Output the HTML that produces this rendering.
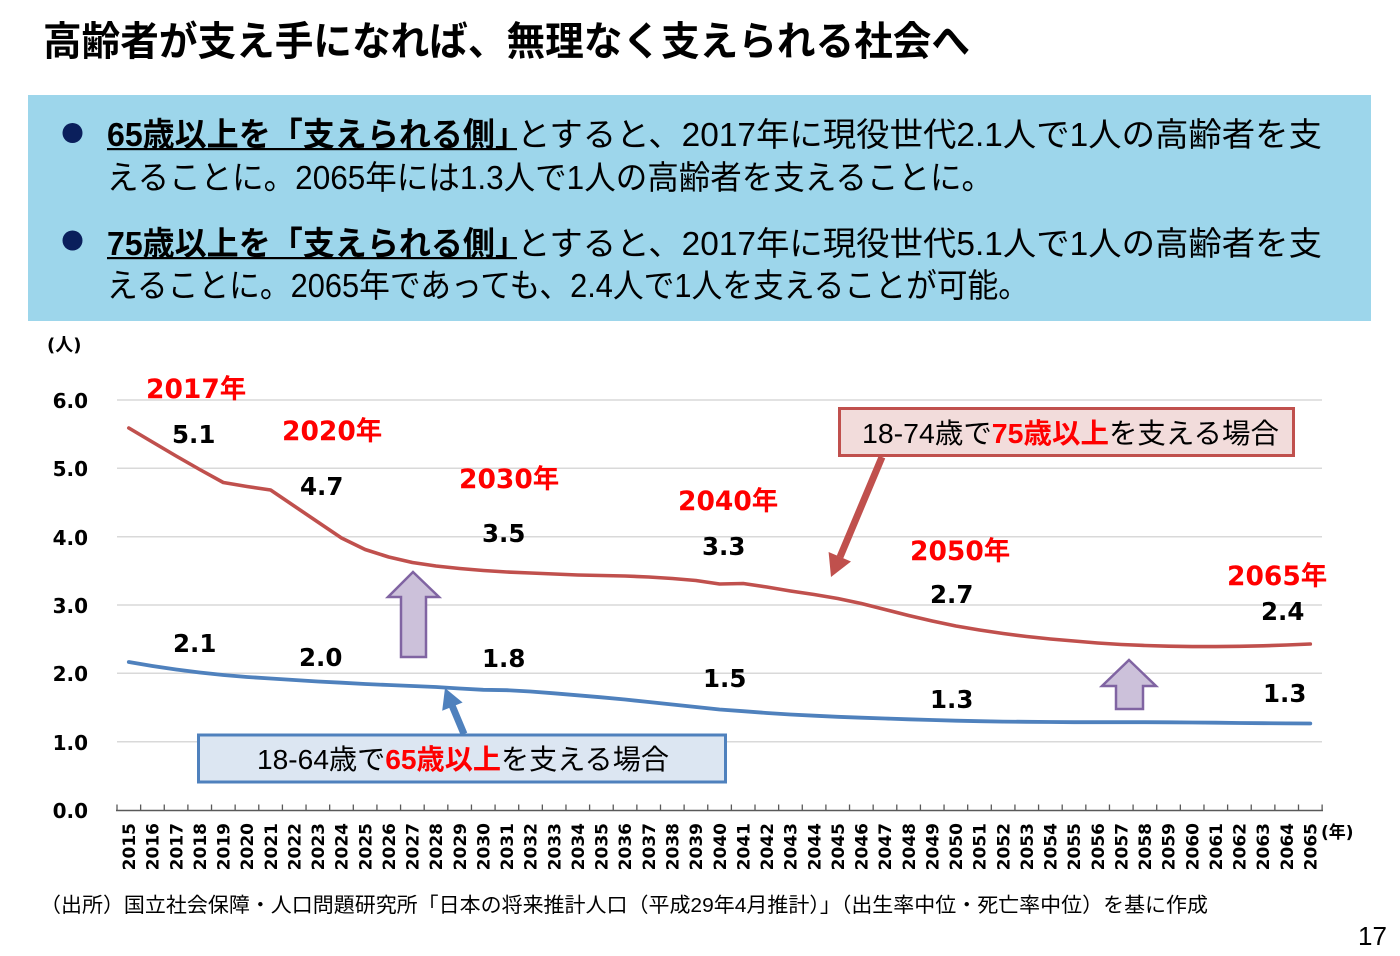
<!DOCTYPE html>
<html><head><meta charset="utf-8"><style>
html,body{margin:0;padding:0;background:#fff;}
svg{display:block;}
.jp{font-family:"Liberation Sans","Noto Sans CJK JP",sans-serif;}
.num{font-family:"DejaVu Sans","Noto Sans CJK JP",sans-serif;font-weight:bold;}
</style></head><body>
<svg width="1400" height="956" viewBox="0 0 1400 956" xmlns="http://www.w3.org/2000/svg">
<rect x="0" y="0" width="1400" height="956" fill="#fff"/>
<!-- Title -->
<text class="jp" x="43" y="55" font-size="40" font-weight="bold" fill="#000" textLength="927" lengthAdjust="spacingAndGlyphs">高齢者が支え手になれば、無理なく支えられる社会へ</text>
<!-- Blue box -->
<rect x="28" y="95" width="1343" height="226" fill="#9dd6eb"/>
<circle cx="72.5" cy="133" r="10" fill="#0a1f5c"/>
<circle cx="72.5" cy="240.5" r="10" fill="#0a1f5c"/>
<text class="jp" x="107" y="146" font-size="33" font-weight="bold" fill="#000" textLength="420" lengthAdjust="spacingAndGlyphs">65歳以上を「支えられる側」</text>
<rect x="107" y="148" width="410" height="2.2" fill="#000"/>
<text class="jp" x="517" y="146" font-size="33" fill="#000" textLength="805" lengthAdjust="spacingAndGlyphs">とすると、2017年に現役世代2.1人で1人の高齢者を支</text>
<text class="jp" x="107" y="189" font-size="33" fill="#000" textLength="886" lengthAdjust="spacingAndGlyphs">えることに。2065年には1.3人で1人の高齢者を支えることに。</text>
<text class="jp" x="107" y="255" font-size="33" font-weight="bold" fill="#000" textLength="420" lengthAdjust="spacingAndGlyphs">75歳以上を「支えられる側」</text>
<rect x="107" y="257" width="410" height="2.2" fill="#000"/>
<text class="jp" x="517" y="255" font-size="33" fill="#000" textLength="805" lengthAdjust="spacingAndGlyphs">とすると、2017年に現役世代5.1人で1人の高齢者を支</text>
<text class="jp" x="107" y="297" font-size="33" fill="#000" textLength="922" lengthAdjust="spacingAndGlyphs">えることに。2065年であっても、2.4人で1人を支えることが可能。</text>

<!-- Gridlines -->
<g stroke="#d9d9d9" stroke-width="1.5">
<line x1="117" y1="400" x2="1322" y2="400"/>
<line x1="117" y1="468.3" x2="1322" y2="468.3"/>
<line x1="117" y1="536.7" x2="1322" y2="536.7"/>
<line x1="117" y1="605" x2="1322" y2="605"/>
<line x1="117" y1="673.3" x2="1322" y2="673.3"/>
<line x1="117" y1="741.7" x2="1322" y2="741.7"/>
</g>
<!-- Axis -->
<line x1="116" y1="810.5" x2="1323" y2="810.5" stroke="#595959" stroke-width="1.5"/>
<line x1="116.35" y1="807.5" x2="1323" y2="807.5" stroke="#595959" stroke-width="6" stroke-dasharray="1.3,22.33"/>

<!-- Y labels -->
<text class="num" x="47" y="351" font-size="18" fill="#000">(人)</text>
<g class="num" font-size="20" fill="#000" text-anchor="end">
<text x="88" y="408">6.0</text>
<text x="88" y="476">5.0</text>
<text x="88" y="545">4.0</text>
<text x="88" y="613">3.0</text>
<text x="88" y="681">2.0</text>
<text x="88" y="750">1.0</text>
<text x="88" y="818">0.0</text>
</g>

<!-- X labels -->
<g class="num" font-size="17" fill="#000" text-anchor="end">
<text transform="translate(135.0,823) rotate(-90)">2015</text>
<text transform="translate(158.6,823) rotate(-90)">2016</text>
<text transform="translate(182.3,823) rotate(-90)">2017</text>
<text transform="translate(205.9,823) rotate(-90)">2018</text>
<text transform="translate(229.5,823) rotate(-90)">2019</text>
<text transform="translate(253.2,823) rotate(-90)">2020</text>
<text transform="translate(276.8,823) rotate(-90)">2021</text>
<text transform="translate(300.4,823) rotate(-90)">2022</text>
<text transform="translate(324.0,823) rotate(-90)">2023</text>
<text transform="translate(347.7,823) rotate(-90)">2024</text>
<text transform="translate(371.3,823) rotate(-90)">2025</text>
<text transform="translate(394.9,823) rotate(-90)">2026</text>
<text transform="translate(418.6,823) rotate(-90)">2027</text>
<text transform="translate(442.2,823) rotate(-90)">2028</text>
<text transform="translate(465.8,823) rotate(-90)">2029</text>
<text transform="translate(489.5,823) rotate(-90)">2030</text>
<text transform="translate(513.1,823) rotate(-90)">2031</text>
<text transform="translate(536.7,823) rotate(-90)">2032</text>
<text transform="translate(560.3,823) rotate(-90)">2033</text>
<text transform="translate(584.0,823) rotate(-90)">2034</text>
<text transform="translate(607.6,823) rotate(-90)">2035</text>
<text transform="translate(631.2,823) rotate(-90)">2036</text>
<text transform="translate(654.9,823) rotate(-90)">2037</text>
<text transform="translate(678.5,823) rotate(-90)">2038</text>
<text transform="translate(702.1,823) rotate(-90)">2039</text>
<text transform="translate(725.8,823) rotate(-90)">2040</text>
<text transform="translate(749.4,823) rotate(-90)">2041</text>
<text transform="translate(773.0,823) rotate(-90)">2042</text>
<text transform="translate(796.6,823) rotate(-90)">2043</text>
<text transform="translate(820.3,823) rotate(-90)">2044</text>
<text transform="translate(843.9,823) rotate(-90)">2045</text>
<text transform="translate(867.5,823) rotate(-90)">2046</text>
<text transform="translate(891.2,823) rotate(-90)">2047</text>
<text transform="translate(914.8,823) rotate(-90)">2048</text>
<text transform="translate(938.4,823) rotate(-90)">2049</text>
<text transform="translate(962.1,823) rotate(-90)">2050</text>
<text transform="translate(985.7,823) rotate(-90)">2051</text>
<text transform="translate(1009.3,823) rotate(-90)">2052</text>
<text transform="translate(1032.9,823) rotate(-90)">2053</text>
<text transform="translate(1056.6,823) rotate(-90)">2054</text>
<text transform="translate(1080.2,823) rotate(-90)">2055</text>
<text transform="translate(1103.8,823) rotate(-90)">2056</text>
<text transform="translate(1127.5,823) rotate(-90)">2057</text>
<text transform="translate(1151.1,823) rotate(-90)">2058</text>
<text transform="translate(1174.7,823) rotate(-90)">2059</text>
<text transform="translate(1198.4,823) rotate(-90)">2060</text>
<text transform="translate(1222.0,823) rotate(-90)">2061</text>
<text transform="translate(1245.6,823) rotate(-90)">2062</text>
<text transform="translate(1269.2,823) rotate(-90)">2063</text>
<text transform="translate(1292.9,823) rotate(-90)">2064</text>
<text transform="translate(1316.5,823) rotate(-90)">2065</text>
</g>
<text class="num" x="1321" y="838" font-size="17" fill="#000">(年)</text>

<!-- Red line -->
<polyline fill="none" stroke="#c0504d" stroke-width="3.6" stroke-linejoin="round" stroke-linecap="round" points="128.8,428 152.4,442 176.1,456 199.7,469.5 223.3,482.5 247.0,486.5 270.6,490 294.2,506 317.8,522 341.5,538 365.1,549.5 388.7,557 412.4,562.5 436.0,566 459.6,568.5 483.3,570.5 506.9,572 530.5,573 554.1,574 577.8,575 601.4,575.5 625.0,576 648.7,577 672.3,578.5 695.9,580.5 719.6,584 743.2,583.5 766.8,587 790.4,591 814.1,594.5 837.7,598.5 861.3,603.5 885.0,609.5 908.6,615.5 932.2,621 955.9,626 979.5,630 1003.1,633.5 1026.7,636.5 1050.4,639 1074.0,641 1097.6,643 1121.3,644.5 1144.9,645.5 1168.5,646.2 1192.2,646.6 1215.8,646.6 1239.4,646.3 1263.0,645.8 1286.7,645 1310.3,644"/>
<!-- Blue line -->
<polyline fill="none" stroke="#4f81bd" stroke-width="3.8" stroke-linejoin="round" stroke-linecap="round" points="128.8,662 152.4,666 176.1,669.5 199.7,672.5 223.3,675 247.0,677 270.6,678.5 294.2,680 317.8,681.5 341.5,682.7 365.1,684 388.7,685 412.4,686 436.0,687 459.6,688.5 483.3,689.8 506.9,690.2 530.5,691.5 554.1,693.3 577.8,695.3 601.4,697.3 625.0,699.5 648.7,702 672.3,704.5 695.9,707 719.6,709.5 743.2,711.2 766.8,713 790.4,714.5 814.1,715.7 837.7,716.8 861.3,717.7 885.0,718.5 908.6,719.3 932.2,720 955.9,720.7 979.5,721.2 1003.1,721.6 1026.7,721.8 1050.4,722 1074.0,722.2 1097.6,722.2 1121.3,722.2 1144.9,722.2 1168.5,722.3 1192.2,722.5 1215.8,722.7 1239.4,723 1263.0,723.2 1286.7,723.4 1310.3,723.5"/>

<!-- Purple arrows -->
<polygon points="413,572 439,597 426,597 426,657 401,657 401,597 388,597" fill="#ccc1da" stroke="#8064a2" stroke-width="2.5" stroke-linejoin="miter"/>
<polygon points="1129,660 1156,686 1143,686 1143,709 1116,709 1116,686 1102,686" fill="#ccc1da" stroke="#8064a2" stroke-width="2.5" stroke-linejoin="miter"/>

<!-- Red callout -->
<line x1="882" y1="457" x2="840" y2="557" stroke="#c0504d" stroke-width="7"/>
<polygon points="831,577 851,561.5 828.6,552" fill="#c0504d"/>
<rect x="839.5" y="408.5" width="454" height="47" fill="#f2dcdb" stroke="#c0504d" stroke-width="3"/>
<text class="jp" x="862" y="443" font-size="28" fill="#000" textLength="417" lengthAdjust="spacingAndGlyphs">18-74歳で<tspan fill="#ff0000" font-weight="bold">75歳以上</tspan>を支える場合</text>

<!-- Blue callout -->
<line x1="464" y1="734" x2="451" y2="703" stroke="#4f81bd" stroke-width="7"/>
<polygon points="445,688 462.6,702.5 442.2,710.7" fill="#4f81bd"/>
<rect x="198.5" y="735" width="527" height="47" fill="#dce6f2" stroke="#4f81bd" stroke-width="3"/>
<text class="jp" x="257" y="769" font-size="28" fill="#000" textLength="412" lengthAdjust="spacingAndGlyphs">18-64歳で<tspan fill="#ff0000" font-weight="bold">65歳以上</tspan>を支える場合</text>

<!-- Year labels (red) -->
<g class="num" font-size="26.5" fill="#ff0000">
<text x="146" y="398">2017年</text>
<text x="282" y="440">2020年</text>
<text x="459" y="488">2030年</text>
<text x="678" y="510">2040年</text>
<text x="910" y="560">2050年</text>
<text x="1227" y="585">2065年</text>
</g>
<!-- Value labels -->
<g class="num" font-size="24.5" fill="#000">
<text x="172" y="443">5.1</text>
<text x="300" y="495">4.7</text>
<text x="482" y="542">3.5</text>
<text x="702" y="555">3.3</text>
<text x="930" y="603">2.7</text>
<text x="1261" y="620">2.4</text>
<text x="173" y="652">2.1</text>
<text x="299" y="666">2.0</text>
<text x="482" y="667">1.8</text>
<text x="703" y="687">1.5</text>
<text x="930" y="708">1.3</text>
<text x="1263" y="702">1.3</text>
</g>

<!-- Source -->
<text class="jp" x="40" y="912" font-size="20.5" fill="#000" textLength="1168" lengthAdjust="spacingAndGlyphs">（出所）国立社会保障・人口問題研究所「日本の将来推計人口（平成29年4月推計）」（出生率中位・死亡率中位）を基に作成</text>
<text x="1358" y="945" font-family="Liberation Sans, sans-serif" font-size="26" fill="#000">17</text>
</svg>
</body></html>
